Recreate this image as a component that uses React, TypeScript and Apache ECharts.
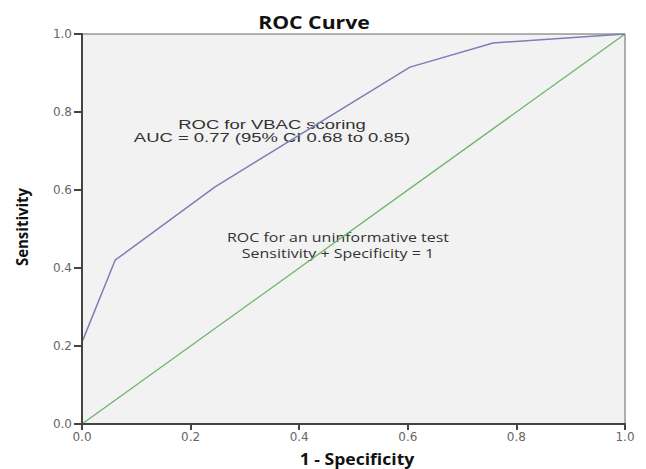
import React, { useEffect, useRef } from "react";
import * as echarts from "echarts";

const rocPoints: [number, number][] = [
  [0, 0],
  [0, 0.21],
  [0.061, 0.42],
  [0.245, 0.608],
  [0.604, 0.915],
  [0.757, 0.977],
  [1, 1],
];
const referencePoints: [number, number][] = [
  [0, 0],
  [1, 1],
];

export default function App() {
  const ref = useRef<HTMLDivElement>(null);
  useEffect(() => {
    if (!ref.current) return;
    const chart = echarts.init(ref.current, undefined, { renderer: "svg" });
    const tickFont = { fontFamily: "DejaVu Sans", fontSize: 12, color: "#666" };
    const txt = (text: string, x: number, y: number, font: string, sx: number) => ({
      type: "text",
      x,
      y,
      scaleX: sx,
      style: { text, fill: "#333", font, align: "center", verticalAlign: "middle" },
    });
    chart.setOption({
      animation: false,
      backgroundColor: "#ffffff",
      grid: {
        left: 82,
        right: 21,
        top: 34,
        bottom: 45,
        show: true,
        backgroundColor: "#f2f2f2",
        borderColor: "#666",
        borderWidth: 1,
      },
      xAxis: {
        type: "value",
        min: 0,
        max: 1,
        interval: 0.2,
        z: 5,
        axisLine: { show: true, lineStyle: { color: "#444", width: 2 } },
        axisTick: { show: true, inside: false, length: 6, lineStyle: { color: "#444", width: 2 } },
        axisLabel: { ...tickFont, margin: 7, formatter: (v: number) => v.toFixed(1) },
        splitLine: { show: false },
      },
      yAxis: {
        type: "value",
        min: 0,
        max: 1,
        interval: 0.2,
        z: 5,
        axisLine: { show: true, lineStyle: { color: "#444", width: 2 } },
        axisTick: { show: true, inside: false, length: 8, lineStyle: { color: "#444", width: 2 } },
        axisLabel: { ...tickFont, margin: 10, formatter: (v: number) => v.toFixed(1) },
        splitLine: { show: false },
      },
      series: [
        {
          type: "line",
          data: referencePoints,
          symbol: "none",
          lineStyle: { color: "#6bb56b", width: 1.3 },
          z: 2,
        },
        {
          type: "line",
          data: rocPoints,
          symbol: "none",
          lineStyle: { color: "#7b7fb6", width: 1.5 },
          z: 3,
        },
      ],
      graphic: [
        {
          type: "text",
          x: 314,
          y: 22,
          scaleX: 1.25,
          style: { text: "ROC Curve", fill: "#111", font: "bold 17px 'Open Sans'", align: "center", verticalAlign: "middle" },
        },
        {
          type: "text",
          x: 357,
          y: 459,
          scaleX: 1.1,
          style: { text: "1 - Specificity", fill: "#111", font: "bold 16px 'Open Sans'", align: "center", verticalAlign: "middle" },
        },
        {
          type: "text",
          x: 22,
          y: 227,
          rotation: Math.PI / 2,
          scaleY: 1.1,
          style: { text: "Sensitivity", fill: "#111", font: "bold 15px 'Open Sans'", align: "center", verticalAlign: "middle" },
        },
        txt("ROC for VBAC scoring", 272, 125, "13px 'Liberation Sans'", 1.42),
        txt("AUC = 0.77 (95% CI 0.68 to 0.85)", 272, 138, "13px 'Liberation Sans'", 1.42),
        txt("ROC for an uninformative test", 338, 237, "12px 'Open Sans'", 1.33),
        txt("Sensitivity + Specificity = 1", 338, 253, "12px 'Open Sans'", 1.33),
      ],
    });
    return () => chart.dispose();
  }, []);
  return <div ref={ref} style={{ position: "absolute", left: 0, top: 0, width: 646, height: 469 }} />;
}
